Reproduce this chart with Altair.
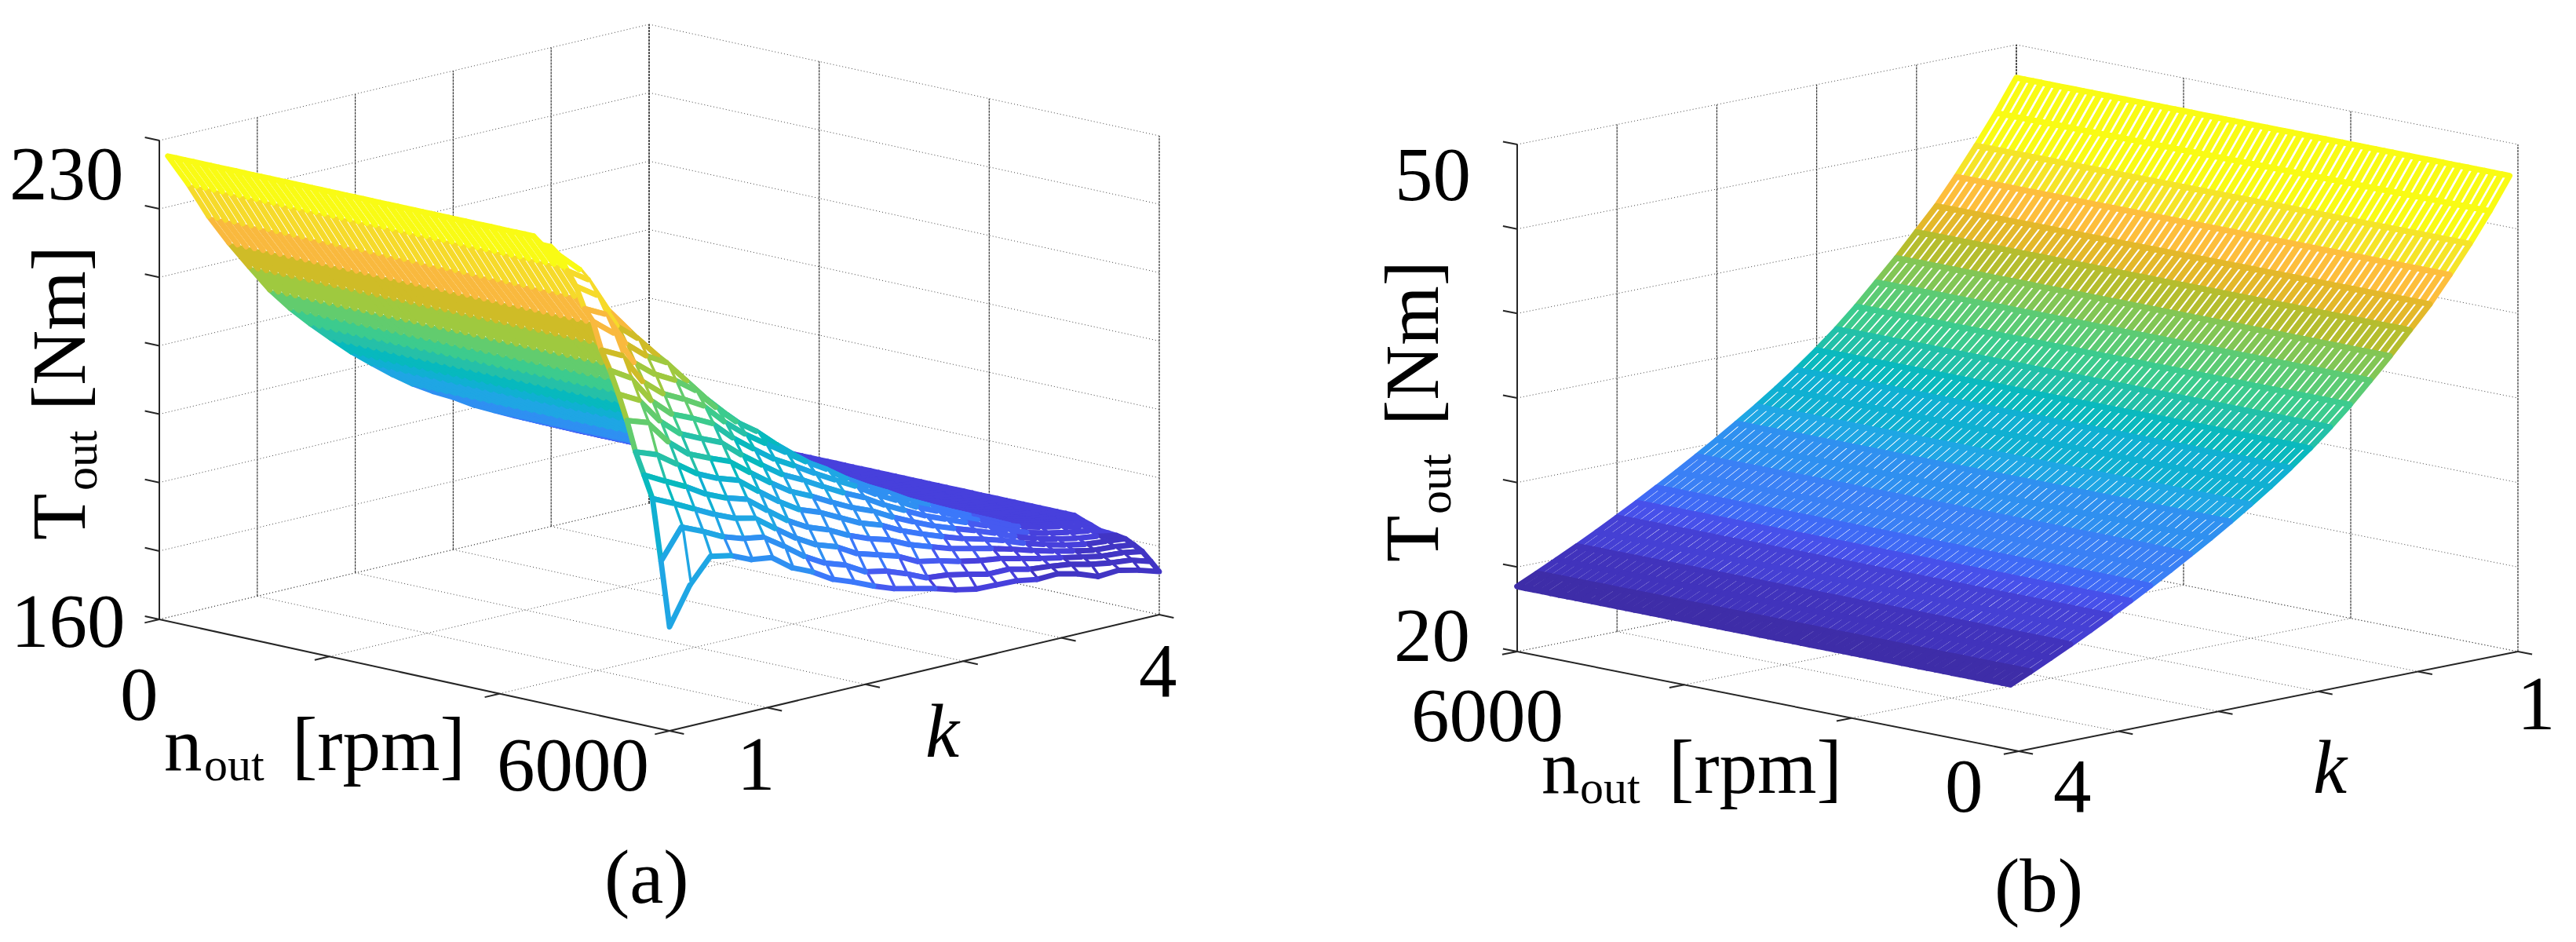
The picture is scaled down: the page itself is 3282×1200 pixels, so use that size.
import altair as alt
import pandas as pd

# ---------- values ----------
n_grid = list(range(100, 6001, 100))
k_a = [1.0, 1.125, 1.25, 1.375, 1.5, 1.625, 1.75, 1.875, 2.0, 2.125, 2.25, 2.375, 2.5,
       2.625, 2.75, 2.875, 3.0, 3.125, 3.25, 3.375, 3.5, 3.625, 3.75, 3.875, 4.0]
k_b = [1.0, 1.12, 1.24, 1.36, 1.48, 1.6, 1.72, 1.84, 1.96, 2.08, 2.2, 2.32, 2.44,
       2.56, 2.68, 2.8, 2.92, 3.04, 3.16, 3.28, 3.4, 3.52, 3.64, 3.76, 3.88, 4.0]

# (a) constant-torque level of every k line
plateau_a = [228.0, 223.2, 217.8, 213.2, 209.0, 204.9, 201.5, 198.5, 195.7, 193.0, 190.6, 188.3, 186.2,
             184.4, 182.8, 181.0, 179.5, 178.0, 176.6, 175.2, 173.8, 173.0, 172.4, 172.0, 171.8]
# (a) torque of every k line going down in speed from 6000 rpm in 100 rpm steps, until the plateau
falling_a = [
    [175.2, 184.5, 193.4, 196.6, 199.7, 204.0, 207.6, 210.8, 213.5, 217.4, 219.0, 222.0, 224.0, 226.0, 227.0, 227.0],
    [180.6, 188.8, 192.0, 195.0, 198.6, 203.0, 206.0, 209.0, 212.0, 215.0, 217.5, 220.0, 222.0, 223.2],
    [184.1, 187.5, 190.5, 193.5, 196.5, 199.5, 202.3, 205.0, 207.5, 210.0, 212.5, 214.8, 216.8],
    [183.5, 186.0, 189.0, 191.7, 194.4, 197.0, 199.7, 202.3, 205.0, 207.6, 210.0, 212.3],
    [182.2, 185.0, 187.7, 190.4, 193.0, 195.7, 198.3, 201.0, 203.5, 206.0, 208.3],
    [181.8, 184.5, 187.0, 189.5, 192.0, 194.5, 197.0, 199.5, 201.8, 203.8],
    [179.6, 182.5, 184.8, 187.2, 189.7, 192.2, 194.5, 196.7, 198.8, 200.6],
    [178.3, 180.3, 182.7, 185.0, 187.5, 190.0, 192.3, 194.4, 196.3, 197.8],
    [176.5, 178.6, 181.0, 183.3, 185.6, 188.0, 190.2, 192.2, 194.2],
    [175.4, 177.6, 180.0, 182.2, 184.5, 186.6, 188.7, 190.5, 192.2],
    [174.1, 175.9, 178.3, 180.7, 183.0, 185.0, 187.0, 188.7, 190.1],
    [173.0, 175.3, 177.4, 179.5, 181.5, 183.5, 185.4, 187.0],
    [172.3, 174.2, 176.5, 178.6, 180.5, 182.3, 184.0, 185.4],
    [171.6, 172.9, 175.0, 177.2, 179.0, 180.7, 182.2, 183.5],
    [170.7, 172.6, 174.4, 176.2, 177.8, 179.3, 180.7, 181.9],
    [170.1, 172.0, 173.6, 175.2, 176.7, 178.0, 179.2, 180.2],
    [170.0, 171.3, 173.0, 174.5, 175.7, 176.9, 178.0, 178.9],
    [169.9, 171.3, 172.6, 173.8, 174.9, 175.9, 176.8, 177.5],
    [169.4, 170.6, 171.9, 173.0, 174.0, 174.8, 175.6, 176.2],
    [169.5, 170.3, 171.2, 172.1, 172.9, 173.6, 174.3, 174.8],
    [168.8, 169.9, 170.6, 171.3, 172.0, 172.6, 173.2],
    [167.7, 169.2, 170.0, 170.6, 171.2, 171.8, 172.4],
    [167.9, 168.7, 169.4, 170.0, 170.6, 171.2, 171.8],
    [167.2, 168.4, 169.2, 169.8, 170.3, 170.8, 171.3, 171.7],
    [166.3, 167.5, 168.7, 169.4, 170.0, 170.2, 170.3, 170.4, 170.9, 171.3],
]
# (b) torque of every k line (flat in speed)
torque_b = [48.05, 46.2, 44.5, 42.9, 41.4, 40.1, 38.8, 37.6, 36.4, 35.3, 34.3, 33.37, 32.5,
            31.68, 30.9, 30.15, 29.43, 28.73, 28.05, 27.39, 26.75, 26.13, 25.53, 24.95, 24.39, 23.85]

z_ticks_a = [160, 170, 180, 190, 200, 210, 220, 230]
z_ticks_b = [20, 25, 30, 35, 40, 45, 50]
n_ticks = [0, 2000, 4000, 6000]
k_ticks = [1.0, 1.6, 2.2, 2.8, 3.4, 4.0]

# colour bands
bands_a_limits = [168, 171, 174, 177, 181, 187, 191.5, 194.5, 197, 200, 203, 207, 211, 215, 220, 225]
bands_a_colors = ["#3e2da8", "#4135c4", "#4740dc", "#465af0", "#3b78fa", "#2f90f2", "#1fa6e4", "#10b0d2",
                  "#07b9be", "#25c0a8", "#3ccb8e", "#62cc6e", "#9fc93f", "#cfbc27", "#f9b93e", "#f6da2a", "#f9fb14"]
bands_b_limits = [24.5, 25.6, 26.8, 27.6, 28.4, 29.5, 31, 32.5, 34, 35, 36, 37.2, 38.4, 39.6, 40.8, 42, 43.5, 45.5, 47]
bands_b_colors = ["#3e2da8", "#4133bc", "#4540d4", "#4750ea", "#3f6af5", "#3a80f5", "#2f90f0", "#1fa6e4", "#10b0d2",
                  "#0ab9be", "#22c0a8", "#3ccb8e", "#5ccb74", "#82c655", "#b5bd2e", "#e3b82a", "#fdbe3c", "#f5e428", "#f9fb14"]

# ---------- 3D view of each panel ----------
view_a = dict(x0=203, y0=789, nx=650, ny=142, kx=624, ky=-148, zh=610, zmin=160, zspan=70, nflip=False, kflip=False)
view_b = dict(x0=1933, y0=830, nx=639, ny=127, kx=636, ky=-127, zh=646, zmin=20, zspan=30, nflip=True, kflip=True)


def project(v, n, k, z):
    fn = n / 6000
    fk = (k - 1) / 3
    if v["nflip"]:
        fn = 1 - fn
    if v["kflip"]:
        fk = 1 - fk
    x = v["x0"] + v["nx"] * fn + v["kx"] * fk
    y = v["y0"] + v["ny"] * fn + v["ky"] * fk - (z - v["zmin"]) / v["zspan"] * v["zh"]
    return round(x, 1), round(y, 1)


def t_a(i, n):
    row = falling_a[i]
    idx = (6000 - n) // 100
    return row[idx] if idx < len(row) else plateau_a[i]


def t_b(i, n):
    return torque_b[i]


def surface(v, ks, tfun, sign, width):
    """A white face and its wires for each mesh square, farthest from the viewer first."""
    cells = []
    last = len(ks) - 2
    for i in range(len(ks) - 1):
        for j in range(len(n_grid) - 1):
            corners = [(n_grid[j], i + 1), (n_grid[j], i), (n_grid[j + 1], i), (n_grid[j + 1], i + 1)]
            pts = [list(project(v, n, ks[a], tfun(a, n))) for n, a in corners]
            top = max(tfun(a, n) for n, a in corners)
            depth = sign * ((n_grid[j] + n_grid[j + 1]) / 12000 - (ks[i] + ks[i + 1] - 2) / 6)
            cells.append((depth, pts, top, i == last))
    cells.sort(key=lambda c: c[0])
    features = []
    for _, pts, t, closed in cells:
        features.append({"type": "Feature", "properties": {"T": t, "f": "white", "w": 0},
                         "geometry": {"type": "Polygon", "coordinates": [pts + [pts[0]]]}})
        wire = pts + [pts[0]] if closed else pts
        features.append({"type": "Feature", "properties": {"T": t, "f": "transparent", "w": width},
                         "geometry": {"type": "LineString", "coordinates": wire}})
    return alt.InlineData(values={"type": "FeatureCollection", "features": features},
                          format=alt.DataFormat(property="features", type="json"))


def frame(v, z_ticks):
    zlo, zhi = z_ticks[0], z_ticks[-1]
    grid, solid = [], []

    def seg(store, a, b):
        p, q = project(v, *a), project(v, *b)
        store.append(dict(x=p[0], y=p[1], x2=q[0], y2=q[1]))

    near_k = 4.0 if v["kflip"] else 1.0
    far_k = 1.0 if v["kflip"] else 4.0
    far_n = 6000 if v["nflip"] else 0
    near_n = 0 if v["nflip"] else 6000
    vert = []
    for z in z_ticks:
        seg(grid, (far_n, near_k, z), (far_n, far_k, z))
        seg(grid, (far_n, far_k, z), (near_n, far_k, z))
    for k in k_ticks:
        seg(vert, (far_n, k, zlo), (far_n, k, zhi))
        seg(grid, (far_n, k, zlo), (near_n, k, zlo))
    for n in n_ticks:
        seg(vert, (n, far_k, zlo), (n, far_k, zhi))
        seg(grid, (n, near_k, zlo), (n, far_k, zlo))
    seg(solid, (far_n, near_k, zlo), (far_n, near_k, zhi))
    seg(solid, (far_n, near_k, zlo), (near_n, near_k, zlo))
    seg(solid, (near_n, near_k, zlo), (near_n, far_k, zlo))
    dn = 170 if v["nflip"] else -170
    dk = 0.09 if v["kflip"] else -0.09
    for z in z_ticks:
        seg(solid, (far_n, near_k, z), (far_n + dn, near_k, z))
    for n in n_ticks:
        seg(solid, (n, near_k, zlo), (n, near_k + dk, zlo))
    for k in k_ticks:
        seg(solid, (near_n, k, zlo), (near_n - dn, k, zlo))
    return pd.DataFrame(grid), pd.DataFrame(vert), pd.DataFrame(solid)


X = alt.X("x:Q", axis=None, scale=alt.Scale(domain=[8, 3274], nice=False, zero=False))
Y = alt.Y("y:Q", axis=None, scale=alt.Scale(domain=[1192, 8], nice=False, zero=False))


def rules(df, **mark):
    return alt.Chart(df).mark_rule(**mark).encode(x=X, y=Y, x2="x2:Q", y2="y2:Q")


def surf_layer(data, lims, cols):
    return alt.Chart(data).mark_geoshape(strokeJoin="round", strokeCap="round").encode(
        stroke=alt.Stroke("properties.T:Q", legend=None,
                          scale=alt.Scale(type="threshold", domain=lims, range=cols)),
        fill=alt.Fill("properties.f:N", scale=None, legend=None),
        strokeWidth=alt.StrokeWidth("properties.w:Q", scale=None, legend=None),
    ).project(type="identity", scale=1, translate=[-8, -8])


layers = []
for v, ticks in ((view_a, z_ticks_a), (view_b, z_ticks_b)):
    g, vt, s = frame(v, ticks)
    layers.append(rules(g, color="#444444", strokeWidth=1, strokeDash=[1, 3]))
    layers.append(rules(vt, color="#333333", strokeWidth=1.2, strokeDash=[3, 1]))
    layers.append(rules(s, color="#262626", strokeWidth=2))

surf_a = surf_layer(surface(view_a, k_a, t_a, 1, 6.9), bands_a_limits, bands_a_colors)
surf_b = surf_layer(surface(view_b, k_b, t_b, -1, 7.5), bands_b_limits, bands_b_colors)

# ---------- texts ----------
S, SUB = 97, 60
texts = [
    ("230", 12, 254, S, 0), ("160", 14, 824, S, 0), ("0", 153, 917, S, 0), ("6000", 633, 1007, S, 0),
    ("n", 209, 981, S, 0), ("out", 260, 994, SUB, 0), ("[rpm]", 372, 981, S, 0),
    ("1", 939, 1006, S, 0), ("4", 1451, 887, S, 0), ("(a)", 770, 1150, S, 0),
    ("T", 108, 688, S, 270), ("out", 123, 625, SUB, 270), ("[Nm]", 108, 523, S, 270),
    ("50", 1777, 255, S, 0), ("20", 1776, 842, S, 0), ("6000", 1798, 944, S, 0),
    ("n", 1964, 1010, S, 0), ("out", 2013, 1023, SUB, 0), ("[rpm]", 2126, 1010, S, 0),
    ("0", 2478, 1034, S, 0), ("4", 2616, 1034, S, 0), ("1", 3207, 929, S, 0), ("(b)", 2541, 1161, S, 0),
    ("T", 1832, 716, S, 270), ("out", 1848, 655, SUB, 270), ("[Nm]", 1832, 542, S, 270),
]
italics = [("k", 1179, 964, S, 0), ("k", 2947, 1010, S, 0)]
cols = ["text", "x", "y", "size", "angle"]


def text_layer(rows, **mark):
    return alt.Chart(pd.DataFrame(rows, columns=cols)).mark_text(
        font="Liberation Serif", align="left", baseline="alphabetic", color="black", **mark
    ).encode(
        x=X, y=Y, text="text:N",
        size=alt.Size("size:Q", scale=None, legend=None),
        angle=alt.Angle("angle:Q", scale=None),
    )


chart = alt.layer(
    *layers, surf_a, surf_b, text_layer(texts), text_layer(italics, fontStyle="italic")
).resolve_scale(stroke="independent").properties(
    width=3266, height=1184, padding=0, autosize="none", background="white"
).configure_view(stroke=None)

chart.save("out.html", embed_options={"renderer": "svg", "actions": False})
